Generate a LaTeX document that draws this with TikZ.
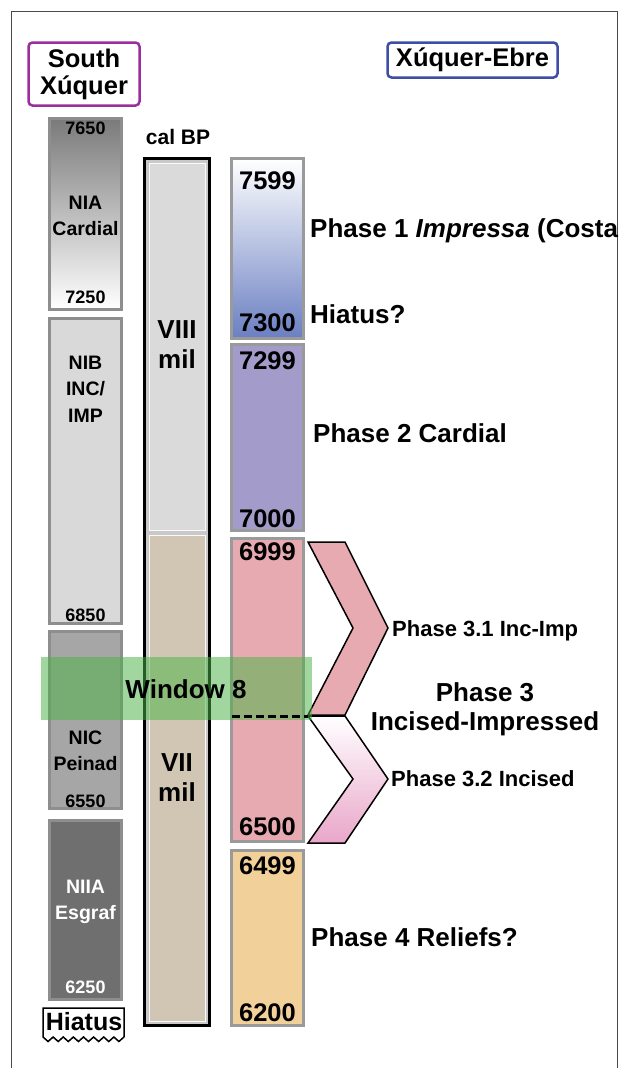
\documentclass[tikz,border=0pt]{standalone}
\usepackage{fontspec}
\setmainfont{Liberation Sans}
\usepackage{xcolor}
\usepackage{tikz}
\usetikzlibrary{positioning}
\definecolor{framegray}{HTML}{4A4A4A}
\definecolor{boxgray}{HTML}{8E8E8E}
\definecolor{rboxgray}{HTML}{9A9A9A}
\definecolor{southpurple}{HTML}{9A2E9E}
\definecolor{ebreblue}{HTML}{3D4EA6}
\definecolor{niatop}{HTML}{7A7A7A}
\definecolor{nibgray}{HTML}{D9D9D9}
\definecolor{nicgray}{HTML}{A6A6A6}
\definecolor{niiagray}{HTML}{6F6F6F}
\definecolor{milgray}{HTML}{DADADA}
\definecolor{miltan}{HTML}{D1C5B3}
\definecolor{milband}{HTML}{C9C9C9}
\definecolor{phaseblue}{HTML}{6A7FC2}
\definecolor{phasepurple}{HTML}{A39BC9}
\definecolor{phasepink}{HTML}{E6AAB0}
\definecolor{phaseorange}{HTML}{F2D09A}
\definecolor{incisedpink}{HTML}{E9A6C9}
\definecolor{windowgreen}{HTML}{4CB446}

\begin{document}
\begin{tikzpicture}[
    x=1pt, y=-1pt,
    leftbox/.style={draw=boxgray, line width=3pt, minimum width=72pt, inner sep=0pt},
    rightbox/.style={draw=rboxgray, line width=3pt, minimum width=72pt, inner sep=0pt},
    region/.style={rectangle, rounded corners=4pt, line width=2.5pt, fill=white, align=center, inner sep=3pt, font=\fontsize{25.5}{27}\selectfont\bfseries},
    smalltxt/.style={font=\fontsize{19.5}{26.5}\selectfont\bfseries, align=center, inner sep=0pt},
    smallnum/.style={font=\fontsize{18}{20}\selectfont\bfseries, inner sep=0pt},
    bignum/.style={font=\fontsize{25.5}{27}\selectfont\bfseries, inner sep=0pt},
    miltxt/.style={font=\fontsize{26}{30}\selectfont\bfseries, align=center, inner sep=0pt},
    phase/.style={font=\fontsize{26}{29}\selectfont\bfseries, anchor=west, inner sep=0pt},
    subphase/.style={font=\fontsize{22}{25}\selectfont\bfseries, anchor=west, inner sep=0pt},
    chevron/.style={draw=black, line width=1.5pt, line join=miter}
]
\useasboundingbox (0,0) rectangle (619,1068);
\fill[white] (0,0) rectangle (619,1068);
\draw[framegray, line width=1pt] (11,1070) -- (11,11) -- (617,11) -- (617,1070);

% region headers
\node[region, draw=southpurple, minimum width=111pt, minimum height=63pt] (south) at (84,74) {South\\Xúquer};
\node[region, draw=ebreblue, minimum width=170pt, minimum height=35pt] (ebre) at (472.5,60) {Xúquer-Ebre};

% South Xuquer sequence
\node[leftbox, minimum height=191pt, top color=niatop, bottom color=white] (nia) at (85.5,214) {};
\node[leftbox, minimum height=305pt, fill=nibgray] (nib) at (85.5,471) {};
\node[leftbox, minimum height=177pt, fill=nicgray] (nic) at (85.5,720) {};
\node[leftbox, minimum height=179pt, fill=niiagray] (niia) at (85.5,910) {};

\node[smallnum, below=5pt of nia.north] {7650};
\node[smalltxt] at (85.5,216) {NIA\\Cardial};
\node[smallnum, above=7pt of nia.south] {7250};
\node[smalltxt] at (85.5,389) {NIB\\INC/\\IMP};
\node[smallnum, above=3pt of nib.south] {6850};
\node[smalltxt] at (85.5,751) {NIC\\Peinad};
\node[smallnum, above=2pt of nic.south] {6550};
\node[smalltxt, text=white] at (85.5,902) {NIIA\\Esgraf};
\node[smallnum, text=white, above=7pt of niia.south] {6250};

% hiatus with wavy base
\draw[line width=1.5pt, fill=white] (124,1037) -- (124,1008) -- (43,1008) -- (43,1037)
    \foreach \k in {1,...,8} { -- ++(5.06,4.5) -- ++(5.06,-4.5) };
\node[font=\fontsize{25}{27}\selectfont\bfseries, inner sep=0pt] (hiatus) at (84,1022) {Hiatus};

% millennia column
\node[font=\fontsize{21}{23}\selectfont\bfseries, inner sep=0pt] (calbp) at (178,137) {cal BP};
\node[draw=black, line width=3pt, fill=milband, minimum width=65pt, minimum height=867pt, inner sep=0pt] (mil) at (177,592) {};
\fill[milgray, draw=white!90!milgray, line width=1pt] (149,163) rectangle (205,530);
\fill[miltan, draw=white!85!milgray, line width=1pt] (149,535) rectangle (205,1021);
\node[miltxt] (viii) at (177,345) {VIII\\mil};
\node[miltxt] (vii) at (177,778) {VII\\mil};

% Xuquer-Ebre phases
\node[rightbox, minimum height=180pt, top color=white, bottom color=phaseblue] (p1) at (267.5,248.5) {};
\node[rightbox, minimum height=186pt, fill=phasepurple] (p2) at (267.5,437.5) {};
\node[rightbox, minimum height=303pt, fill=phasepink] (p3) at (267.5,690) {};
\node[rightbox, minimum height=175pt, fill=phaseorange] (p4) at (267.5,938) {};

\node[bignum, below=14pt of p1.north] {7599};
\node[bignum, above=8pt of p1.south] {7300};
\node[bignum, below=8pt of p2.north] {7299};
\node[bignum, above=4pt of p2.south] {7000};
\node[bignum, below=5pt of p3.north] {6999};
\node[bignum, above=7pt of p3.south] {6500};
\node[bignum, below=7pt of p4.north] {6499};
\node[bignum, above=5pt of p4.south] {6200};

\node[phase] (ph1) at (310,231) {Phase 1 \textit{Impressa} (Costa};
\node[phase] (hiat) at (310,314) {Hiatus?};
\node[phase] (ph2) at (313,433) {Phase 2 Cardial};
\node[phase] (ph4) at (311,937) {Phase 4 Reliefs?};

% phase 3 sub-phases
\draw[chevron, fill=phasepink] (308,542) -- (345,542) -- (388,628) -- (345,715) -- (308,715) -- (353,628) -- cycle;
\draw[chevron, top color=white, bottom color=incisedpink] (308,716) -- (345,716) -- (388,779) -- (345,843) -- (308,843) -- (353,779) -- cycle;
\node[subphase] (ph31) at (392,631) {Phase 3.1 Inc-Imp};
\node[subphase] (ph32) at (391,779) {Phase 3.2 Incised};
\node[font=\fontsize{26}{29}\selectfont\bfseries, align=center, inner sep=0pt] (ph3) at (485,709) {Phase 3\\Incised-Impressed};

% window 8
\fill[windowgreen, opacity=0.52] (41,657) rectangle (312,720);
\draw[black, line width=3pt, dash pattern=on 8pt off 4pt] (232,716) -- (308,716);
\node[font=\fontsize{26}{28}\selectfont\bfseries, inner sep=0pt] (win) at (186,689) {Window 8};

\end{tikzpicture}
\end{document}
